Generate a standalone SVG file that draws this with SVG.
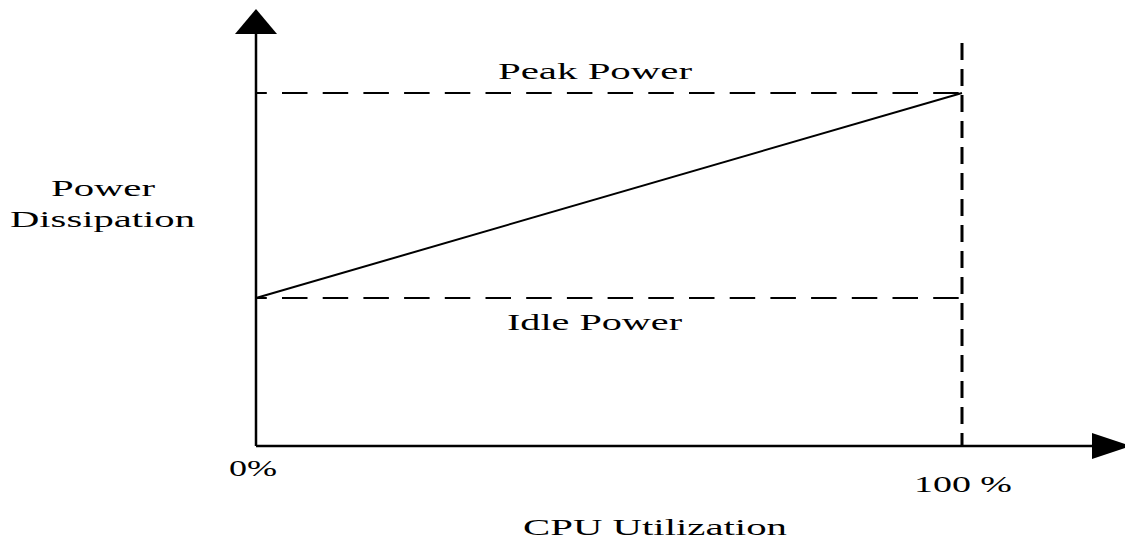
<svg xmlns="http://www.w3.org/2000/svg" width="1125" height="538" viewBox="0 0 1125 538">
  <style>
    .axis { stroke: #000; stroke-width: 2.5; fill: none; }
    .head { fill: #000; stroke: none; }
    .hguide { stroke: #000; stroke-width: 2; fill: none; stroke-dasharray: 25.5 15.2; stroke-dashoffset: 14.7; }
    .vguide { stroke: #000; stroke-width: 3; fill: none; stroke-dasharray: 17 9; }
    .curve { stroke: #000; stroke-width: 2; fill: none; }
    .lbl { font-family: "Liberation Serif", "Times New Roman", serif; font-size: 24px; fill: #000; }
  </style>
  <rect width="1125" height="538" fill="#fff"/>

  <!-- reference levels and the 100% marker -->
  <g id="guides">
    <line class="hguide" x1="256" y1="93" x2="962" y2="93"/>
    <line class="hguide" x1="256" y1="298" x2="962" y2="298"/>
    <line class="vguide" x1="962" y1="43" x2="962" y2="446"/>
  </g>

  <!-- linear power model: idle at 0%, peak at 100% -->
  <g id="power-line">
    <line class="curve" x1="256" y1="298" x2="962" y2="93"/>
  </g>

  <!-- axes with arrowheads -->
  <g id="axes">
    <line class="axis" x1="256" y1="30" x2="256" y2="446"/>
    <line class="axis" x1="256" y1="446" x2="1096" y2="446"/>
    <polygon class="head" points="256,9 235,34 277,34"/>
    <polygon class="head" points="1092,433 1092,459 1131,446"/>
  </g>

  <!-- labels: wide serif, stretched horizontally -->
  <g id="labels">
    <text class="lbl" transform="translate(51,196) scale(1.68,1)" textLength="61.9" lengthAdjust="spacingAndGlyphs">Power</text>
    <text class="lbl" transform="translate(10,227) scale(1.68,1)" textLength="110.1" lengthAdjust="spacingAndGlyphs">Dissipation</text>
    <text class="lbl" transform="translate(498,79) scale(1.68,1)" textLength="115.5" lengthAdjust="spacingAndGlyphs">Peak Power</text>
    <text class="lbl" transform="translate(507,330) scale(1.68,1)" textLength="104.2" lengthAdjust="spacingAndGlyphs">Idle Power</text>
    <text class="lbl" transform="translate(229,476) scale(1.68,1)" textLength="28.6" lengthAdjust="spacingAndGlyphs">0%</text>
    <text class="lbl" transform="translate(914,492) scale(1.68,1)" textLength="58.3" lengthAdjust="spacingAndGlyphs">100 %</text>
    <text class="lbl" transform="translate(523,535) scale(1.68,1)" textLength="157.1" lengthAdjust="spacingAndGlyphs">CPU Utilization</text>
  </g>
</svg>
